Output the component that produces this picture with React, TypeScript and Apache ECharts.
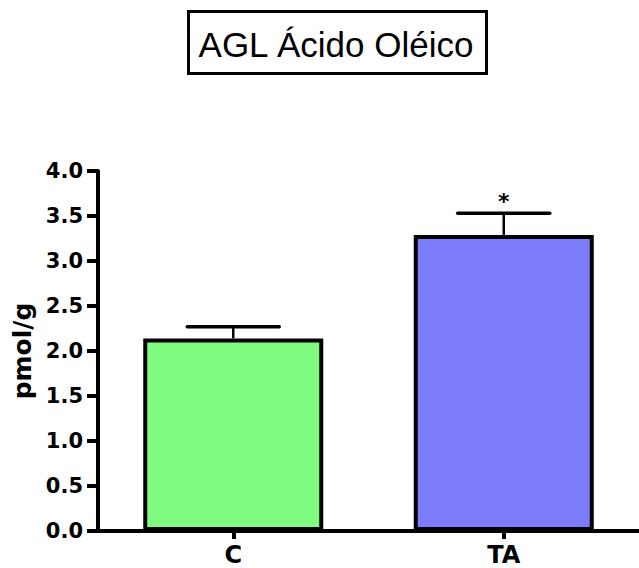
import React, { useEffect, useRef } from "react";
import * as echarts from "echarts";

const categories = ["C", "TA"];
const means = [2.14, 3.29];
const sems = [0.13, 0.24];
const significance = ["", "*"];
const barColors = ["#80fc80", "#7c7cfa"];
const yTicks = { min: 0, max: 4, interval: 0.5 };
const titleText = "AGL Ácido Oléico";
const yName = "pmol/g";

const FONT = "'Liberation Sans', Arial, Helvetica, sans-serif";
const BOLD = "'DejaVu Sans', Verdana, sans-serif";

export default function App() {
  const ref = useRef<HTMLDivElement>(null);
  useEffect(() => {
    document.body.style.margin = "0";
    const chart = echarts.init(ref.current!, null, { renderer: "svg" });
    const option: any = {
      animation: false,
      backgroundColor: "#ffffff",
      grid: { left: 98, right: 0, top: 171, bottom: 37, containLabel: false },
      graphic: [
        {
          type: "rect",
          shape: { x: 188.5, y: 11.5, width: 298, height: 62 },
          style: { fill: "#fff", stroke: "#000", lineWidth: 3 },
          z: 10,
        },
        {
          type: "text",
          x: 336,
          y: 44,
          style: {
            text: titleText,
            font: `35px ${FONT}`,
            fill: "#000",
            textAlign: "center",
            textVerticalAlign: "middle",
          },
          z: 11,
        },
      ],
      xAxis: {
        type: "category",
        data: categories,
        boundaryGap: true,
        axisLine: { show: true, lineStyle: { color: "#000", width: 4 } },
        axisTick: { show: true, alignWithLabel: true, length: 8, lineStyle: { color: "#000", width: 4 } },
        axisLabel: { color: "#000", fontWeight: "bold", fontSize: 24, fontFamily: BOLD, margin: 12 },
        splitLine: { show: false },
      },
      yAxis: {
        type: "value",
        min: yTicks.min,
        max: yTicks.max,
        interval: yTicks.interval,
        name: yName,
        nameLocation: "middle",
        nameGap: 60,
        nameRotate: 90,
        nameTextStyle: { color: "#000", fontWeight: "bold", fontSize: 25, fontFamily: BOLD },
        axisLine: { show: true, lineStyle: { color: "#000", width: 4 } },
        axisTick: { show: true, length: 11, lineStyle: { color: "#000", width: 4 } },
        axisLabel: {
          color: "#000",
          fontWeight: "bold",
          fontSize: 21,
          fontFamily: BOLD,
          margin: 15,
          formatter: (v: number) => v.toFixed(1),
        },
        splitLine: { show: false },
      },
      series: [
        {
          type: "bar",
          barWidth: 180,
          data: means.map((m, i) => ({
            value: m,
            itemStyle: { color: barColors[i], borderColor: "#000", borderWidth: 4 },
          })),
          z: 2,
        },
        {
          type: "custom",
          z: 3,
          data: means.map((m, i) => [i, m, sems[i]]),
          renderItem: (params: any, api: any) => {
            const i = api.value(0);
            const m = api.value(1);
            const s = api.value(2);
            const base = api.coord([i, m]);
            const top = api.coord([i, m + s]);
            const half = 46;
            const children: any[] = [
              {
                type: "line",
                shape: { x1: base[0], y1: base[1], x2: top[0], y2: top[1] },
                style: { stroke: "#000", lineWidth: 2.5 },
              },
              {
                type: "line",
                shape: { x1: top[0] - half, y1: top[1], x2: top[0] + half, y2: top[1] },
                style: { stroke: "#000", lineWidth: 3.5, lineCap: "round" },
              },
            ];
            const sig = significance[params.dataIndex];
            if (sig) {
              children.push({
                type: "text",
                x: top[0],
                y: top[1] - 1,
                style: {
                  text: sig,
                  font: `bold 22px ${BOLD}`,
                  fill: "#000",
                  textAlign: "center",
                  textVerticalAlign: "bottom",
                },
              });
            }
            return { type: "group", children };
          },
        },
      ],
    };
    chart.setOption(option);
    return () => chart.dispose();
  }, []);
  return <div ref={ref} style={{ width: 639, height: 568 }} />;
}
